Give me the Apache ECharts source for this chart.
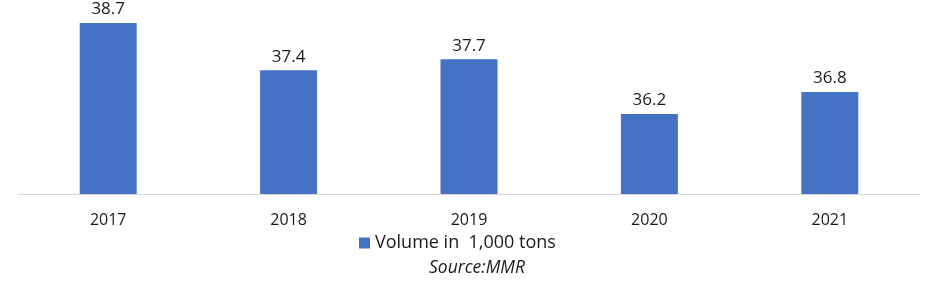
<!DOCTYPE html>
<html>
<head>
<meta charset="utf-8">
<script src="https://cdn.jsdelivr.net/npm/echarts@6/dist/echarts.min.js"></script>
<style>html,body{margin:0;padding:0;background:#fff}#c{width:941px;height:281px}</style>
</head>
<body>
<div id="c"></div>
<script>
const categories = ['2017', '2018', '2019', '2020', '2021'];
const volume = [38.7, 37.4, 37.7, 36.2, 36.8];
const seriesName = 'Volume in  1,000 tons';
const sourceText = 'Source:MMR';

const chart = echarts.init(document.getElementById('c'), null, {renderer: 'canvas'});
const FONT = '"Open Sans", "Noto Sans", sans-serif';
chart.setOption({
  animation: false,
  backgroundColor: '#ffffff',
  title: {
    text: sourceText,
    left: 424, top: 254,
    textStyle: {fontFamily: FONT, fontStyle: 'italic', fontWeight: 'normal', fontSize: 17.5, color: '#1a1a1a'}
  },
  legend: {
    data: [seriesName],
    left: 354, top: 229,
    icon: 'rect', itemWidth: 11, itemHeight: 11,
    textStyle: {fontFamily: FONT, fontSize: 18, color: '#1a1a1a'}
  },
  grid: {left: 18, right: 21, top: 12, bottom: 87, containLabel: false},
  xAxis: {
    type: 'category', data: categories,
    axisLine: {lineStyle: {color: '#d9d9d9', width: 1}},
    axisTick: {show: false},
    axisLabel: {fontFamily: FONT, fontSize: 16, color: '#1a1a1a', margin: 18}
  },
  yAxis: {
    type: 'value', min: 34, max: 39, show: false,
    splitLine: {show: false}
  },
  series: [{
    name: seriesName, type: 'bar', data: volume, barWidth: 57,
    itemStyle: {color: '#4472C4'},
    label: {show: true, position: 'top', distance: 5, fontFamily: FONT, fontSize: 17, color: '#1a1a1a'}
  }]
});
</script>
</body>
</html>
